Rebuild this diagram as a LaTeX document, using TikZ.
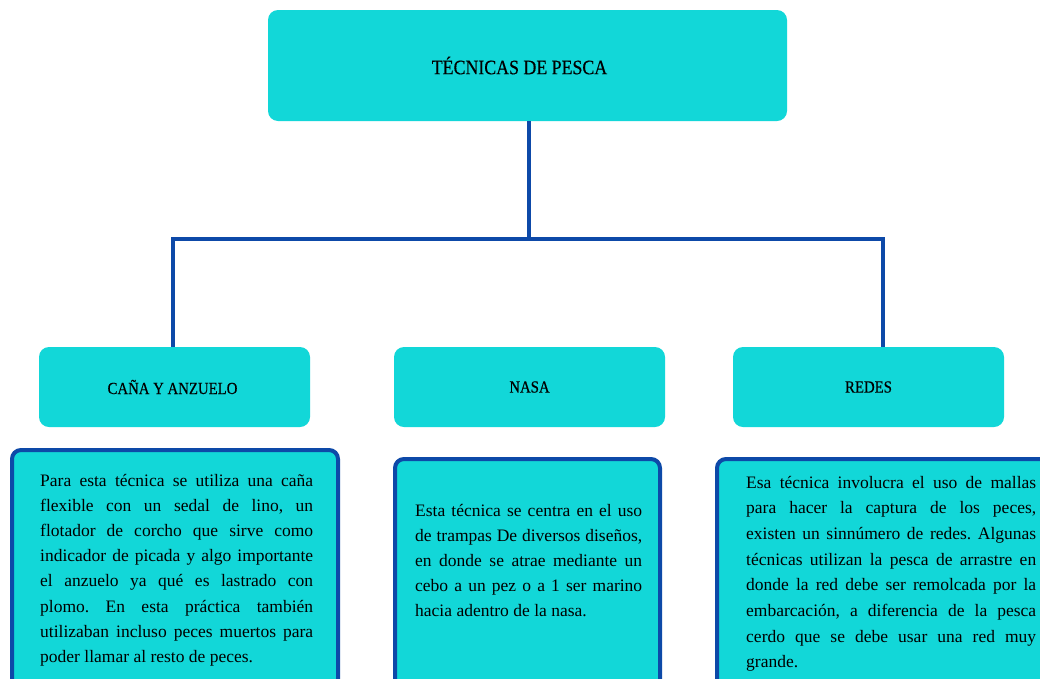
\documentclass[tikz,border=0pt]{standalone}
\usepackage{fontspec}
\setmainfont{Liberation Serif}
\newfontfamily\headfont[FakeStretch=0.87,FakeBold=0.4]{Liberation Serif}
\definecolor{cyanfill}{HTML}{12D7D8}
\definecolor{linkblue}{HTML}{0D49A8}
\newcommand\nohyph{\hyphenpenalty=10000 \exhyphenpenalty=10000 \frenchspacing\relax}
\begin{document}
\begin{tikzpicture}[x=1pt,y=-1pt,
  titlebox/.style={fill=cyanfill, draw=none, rounded corners=10pt, inner sep=0pt, text=black},
  descbox/.style={fill=cyanfill, draw=linkblue, line width=4pt, rounded corners=9pt, inner sep=0pt},
  desctext/.style={anchor=base west, inner sep=0pt, align=justify, text=black,
    font=\fontsize{17.5}{25.2}\selectfont},
  link/.style={draw=linkblue, line width=4pt}]
\useasboundingbox (0,0) rectangle (1040,678);
\clip (0,0) rectangle (1040,678);
\fill[white] (0,0) rectangle (1040,678);

% top
\node[titlebox, minimum width=519pt, minimum height=111pt, font=\headfont\fontsize{20.5}{22}\selectfont] (top) at (527.5,65.5) {TÉCNICAS DE PESCA\hspace*{16pt}};

% categories
\node[titlebox, minimum width=271pt, minimum height=80pt, font=\headfont\fontsize{17}{19}\selectfont] (cana) at (174.5,387) {CAÑA Y ANZUELO\hspace*{4pt}};
\node[titlebox, minimum width=271pt, minimum height=80pt, font=\headfont\fontsize{17}{19}\selectfont] (nasa) at (529.5,387) {NASA};
\node[titlebox, minimum width=271pt, minimum height=80pt, font=\headfont\fontsize{17}{19}\selectfont] (redes) at (868.5,387) {REDES};

% connectors
\coordinate (j) at (529,239);
\draw[link] (top.south -| j) -- (j);
\draw[link] (cana.north -| 173,0) -- (173,239) -- (883,239) -- (redes.north -| 883,0);

% description boxes
\node[descbox, minimum width=326pt, minimum height=250pt] (d1) at (175,575) {};
\node[descbox, minimum width=265pt, minimum height=241pt] (d2) at (527.5,579.5) {};
\node[descbox, minimum width=343pt, minimum height=241pt] (d3) at (888.5,579.5) {};

\node[desctext, text width=273pt] (t1) at (40,486) {\nohyph Para esta técnica se utiliza una caña\linebreak
flexible con un sedal de lino, un\linebreak
flotador de corcho que sirve como\linebreak
indicador de picada y algo importante\linebreak
el anzuelo ya qué es lastrado con\linebreak
plomo. En esta práctica también\linebreak
utilizaban incluso peces muertos para\linebreak
poder llamar al resto de peces.};

\node[desctext, text width=227pt] (t2) at (415,516) {\nohyph Esta técnica se centra en el uso\linebreak
de trampas De diversos diseños,\linebreak
en donde se atrae mediante un\linebreak
cebo a un pez o a 1 ser marino\linebreak
hacia adentro de la nasa.};

\node[desctext, text width=290pt, font=\fontsize{17.5}{25.7}\selectfont] (t3) at (746,488) {\nohyph Esa técnica involucra el uso de mallas\linebreak
para hacer la captura de los peces,\linebreak
existen un sinnúmero de redes. Algunas\linebreak
técnicas utilizan la pesca de arrastre en\linebreak
donde la red debe ser remolcada por la\linebreak
embarcación, a diferencia de la pesca\linebreak
cerdo que se debe usar una red muy\linebreak
grande.};
\end{tikzpicture}
\end{document}
